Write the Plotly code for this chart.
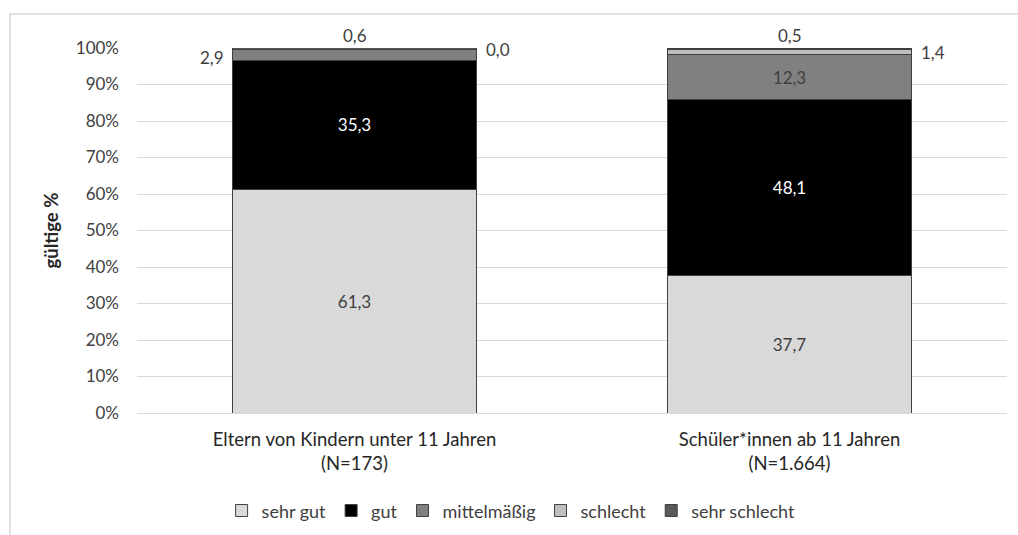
import plotly.graph_objects as go

categories = ["Eltern von Kindern unter 11 Jahren<br>(N=173)", "Schüler*innen ab 11 Jahren<br>(N=1.664)"]
series_names = ["sehr gut", "gut", "mittelmäßig", "schlecht", "sehr schlecht"]
sehr_gut = [61.3, 37.7]
gut = [35.3, 48.1]
mittelmaessig = [2.9, 12.3]
schlecht = [0.0, 1.4]
sehr_schlecht = [0.6, 0.5]
y_ticks = [0, 10, 20, 30, 40, 50, 60, 70, 80, 90, 100]
y_tick_labels = ["0%", "10%", "20%", "30%", "40%", "50%", "60%", "70%", "80%", "90%", "100%"]

colors = ["#d9d9d9", "#000000", "#808080", "#bfbfbf", "#595959"]
values = [sehr_gut, gut, mittelmaessig, schlecht, sehr_schlecht]
FONT = "Lato, 'Open Sans', sans-serif"
TXT = "#404040"
FS = 17

def fmt(v):
    return f"{v:.1f}".replace(".", ",")

fig = go.Figure()
for name, vals, col in zip(series_names, values, colors):
    inside = [fmt(v) if v >= 5 else "" for v in vals]
    fig.add_trace(go.Bar(
        name=name, x=categories, y=vals,
        marker=dict(color=col, line=dict(color="#404040", width=1)),
        text=inside, textposition="inside", insidetextanchor="middle",
        textfont=dict(family=FONT, size=FS, color="white" if col == "#000000" else TXT),
        hoverinfo="skip", cliponaxis=False,
    ))

# small labels via annotations
cum = [0.0, 0.0]
annos = []
for name, vals in zip(series_names, values):
    for j, v in enumerate(vals):
        base = cum[j]
        mid = min(base + v / 2, 100)
        top = min(base + v, 100)
        if v < 5:
            if name == "mittelmäßig":
                annos.append(dict(x=categories[j], y=mid, text=fmt(v), xshift=-143, yshift=-2))
            elif name == "schlecht":
                annos.append(dict(x=categories[j], y=mid, text=fmt(v), xshift=143))
            elif name == "sehr schlecht":
                annos.append(dict(x=categories[j], y=top, text=fmt(v), yshift=13))
        cum[j] += v
for a in annos:
    a.update(showarrow=False, xanchor="center", yanchor="middle",
             font=dict(family=FONT, size=FS, color=TXT))

fig.update_layout(
    annotations=annos,
    barmode="stack", bargap=0.44,
    width=1018, height=535,
    margin=dict(l=137, r=11, t=48, b=122, autoexpand=False),
    paper_bgcolor="white", plot_bgcolor="white",
    font=dict(family=FONT, size=FS, color=TXT),
    showlegend=True,
    legend=dict(orientation="h", x=0.43, xanchor="center", y=-0.268, yanchor="middle",
                font=dict(family=FONT, size=18, color=TXT), itemwidth=30, traceorder="normal"),
    yaxis=dict(range=[0, 100], tickvals=y_ticks, ticktext=y_tick_labels, showgrid=True,
               gridcolor="#d9d9d9", gridwidth=1, zeroline=False, ticks="",
               ticklabelstandoff=17,
               tickfont=dict(family=FONT, size=FS, color=TXT),
               title=dict(text="<b>gültige %</b>", font=dict(family=FONT, size=18.5, color="#262626"), standoff=12)),
    xaxis=dict(showline=True, linecolor="#d9d9d9", linewidth=1, ticks="",
               ticklabelstandoff=10,
               tickfont=dict(family=FONT, size=18.5, color="#262626")),
    shapes=[dict(type="rect", xref="paper", yref="paper", x0=-0.146, x1=1.03, y0=-0.45, y1=1.093,
                 line=dict(color="#d9d9d9", width=1.5), layer="below")],
)

fig.write_html("out.html", config={"displayModeBar": False},
               post_script="document.body.style.margin='0';document.body.style.overflow='hidden';")
